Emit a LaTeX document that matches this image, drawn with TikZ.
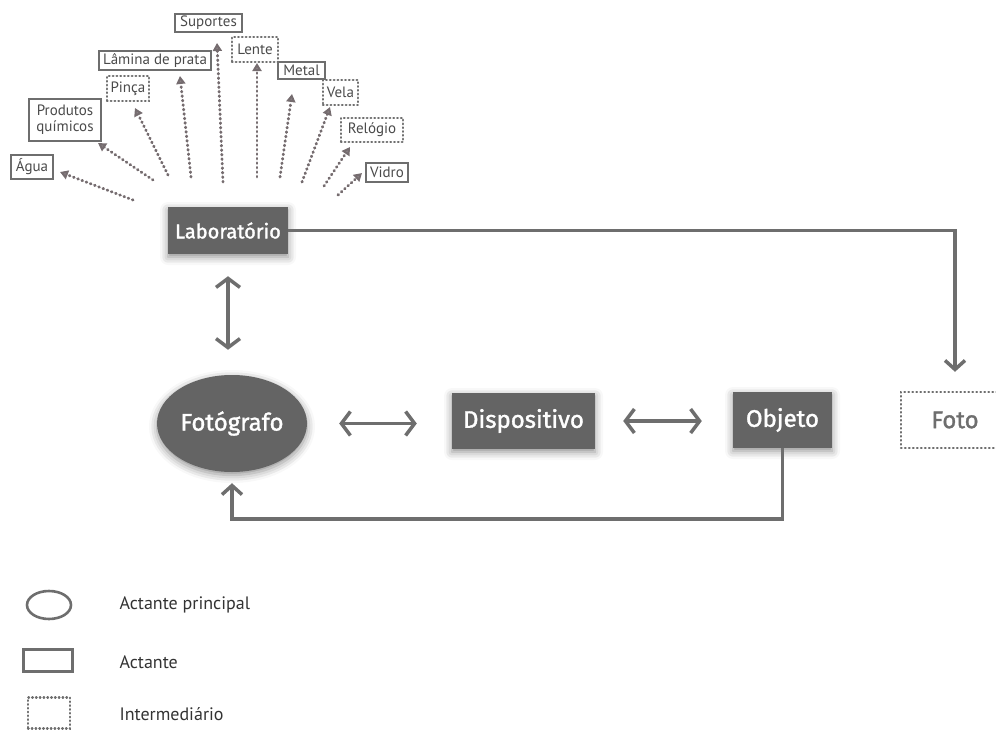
\documentclass[tikz,border=0pt]{standalone}
\usepackage{fontspec}
\setmainfont{PT Sans}
\newfontfamily\labfont[FakeBold=1.5]{Fira Sans}
\usetikzlibrary{arrows.meta,shapes.geometric,shadows.blur,calc}
\definecolor{boxgray}{HTML}{646464}
\definecolor{linegray}{HTML}{6E6E6E}
\definecolor{dotgray}{HTML}{756C6F}
\definecolor{txtgray}{HTML}{4A4A4A}
\begin{document}
\begin{tikzpicture}[x=1pt,y=-1pt,
  sh/.style={blur shadow={shadow xshift=0pt, shadow yshift=-3pt, shadow blur radius=8pt, shadow opacity=45}},
  actant/.style={rectangle, fill=boxgray, text=white, inner sep=0pt, sh,
    font=\labfont\fontsize{24}{26}\selectfont},
  mainactant/.style={ellipse, fill=boxgray, text=white, inner sep=0pt, sh,
    font=\labfont\fontsize{24}{26}\selectfont},
  inter/.style={rectangle, draw=linegray, line width=2.4pt, dash pattern=on 0.6pt off 3.4pt,
    line cap=round, text=linegray, inner sep=0pt, font=\labfont\fontsize{24}{26}\selectfont},
  solidlbl/.style={rectangle, draw=linegray, line width=1.8pt, text=txtgray, inner sep=0pt,
    align=center, font=\fontsize{15}{16}\selectfont},
  dotlbl/.style={rectangle, draw=linegray, line width=2.4pt, dash pattern=on 0.6pt off 3.2pt,
    line cap=round, text=txtgray, inner sep=0pt, font=\fontsize{15}{16}\selectfont},
  mainline/.style={draw=linegray, line width=3.5pt},
  dbl/.style={mainline, {Straight Barb[length=9pt,width=24pt]}-{Straight Barb[length=9pt,width=24pt]}},
  sgl/.style={mainline, -{Straight Barb[length=9pt,width=20pt]}},
  dotarrow/.style={draw=dotgray, line width=2.9pt, dash pattern=on 0.7pt off 3.8pt, line cap=round,
    -{Triangle[length=8pt,width=9pt,fill=dotgray!85]}},
  legtext/.style={anchor=base west, text=black!80, font=\fontsize{18}{20}\selectfont}
]
\useasboundingbox (0,0) rectangle (996,731);

% main actants
\node[actant, minimum width=120pt, minimum height=47pt, font=\labfont\fontsize{20}{22}\selectfont] (lab) at (228,230.5) {Laboratório};
\node[mainactant, minimum width=150pt, minimum height=97pt] (fot) at (232,423.5) {Fotógrafo};
\node[actant, minimum width=143pt, minimum height=56pt] (disp) at (523.5,421) {Dispositivo};
\node[actant, minimum width=99pt, minimum height=56pt] (obj) at (782.5,420) {Objeto};
\node[inter, minimum width=108pt, minimum height=56pt] (foto) at (955,420) {Foto};

% main connectors
\draw[dbl, shorten <=22pt, shorten >=25pt] (lab.south) -- (lab.south |- fot.north);
\draw[dbl, shorten <=32pt, shorten >=35pt] (fot.east) -- (fot.east -| disp.west);
\draw[dbl, shorten <=28pt, shorten >=31pt] (disp.east) -- (disp.east -| obj.west);
\draw[sgl, shorten >=19pt] (lab.east) -| (foto.north);
\draw[sgl, shorten >=11pt] (obj.south) -- ++(0,71) -| (fot.south);

% intermediaries and actants around the laboratory
\node[solidlbl, minimum width=67pt, minimum height=18pt] (suportes) at (208.5,23) {Suportes};
\node[dotlbl, minimum width=46pt, minimum height=25pt] (lente) at (255,49.5) {Lente};
\node[solidlbl, minimum width=112pt, minimum height=19pt] (lamina) at (155,60.5) {Lâmina de prata};
\node[solidlbl, minimum width=47pt, minimum height=17pt] (metal) at (301.5,70.5) {Metal};
\node[dotlbl, minimum width=42pt, minimum height=25pt] (pinca) at (128,88.5) {Pinça};
\node[dotlbl, minimum width=35pt, minimum height=25pt] (vela) at (340.5,92.5) {Vela};
\node[solidlbl, minimum width=72pt, minimum height=42pt] (produtos) at (65,120) {Produtos\\químicos};
\node[dotlbl, minimum width=62pt, minimum height=24pt] (relogio) at (372,130) {Relógio};
\node[solidlbl, minimum width=42pt, minimum height=24pt] (agua) at (32,167) {Água};
\node[solidlbl, minimum width=42pt, minimum height=19pt] (vidro) at (387,172.5) {Vidro};

\coordinate (t1) at (133,200);  \coordinate (h1) at (60,172);
\coordinate (t2) at (153,180);  \coordinate (h2) at (98,143);
\coordinate (t3) at (168,175);  \coordinate (h3) at (135,108);
\coordinate (t4) at (191,177);  \coordinate (h4) at (180,76);
\coordinate (t5) at (223,182);  \coordinate (h5) at (217,43);
\coordinate (t6) at (257,177);  \coordinate (h6) at (257,63);
\coordinate (t7) at (280,177);  \coordinate (h7) at (292,94);
\coordinate (t8) at (302,182);  \coordinate (h8) at (330,107);
\coordinate (t9) at (324,186);  \coordinate (h9) at (350,147);
\coordinate (t10) at (338,195); \coordinate (h10) at (362,173);
\foreach \i in {1,...,10} { \draw[dotarrow] (t\i) -- (h\i); }

% legend
\node[ellipse, draw=linegray, line width=2.6pt, minimum width=44pt, minimum height=28pt, inner sep=0pt] (legell) at (49,605) {};
\node[rectangle, draw=linegray, line width=3pt, minimum width=49pt, minimum height=22pt, inner sep=0pt] (legrect) at (48,660) {};
\node[rectangle, draw=linegray, line width=2.4pt, dash pattern=on 0.6pt off 3.2pt, line cap=round, minimum width=42pt, minimum height=31pt, inner sep=0pt] (legdot) at (49,713) {};
\node[legtext] (lt1) at (116,609) {Actante principal};
\node[legtext] (lt2) at (116,668) {Actante};
\node[legtext] (lt3) at (116,720) {Intermediário};
\end{tikzpicture}
\end{document}
